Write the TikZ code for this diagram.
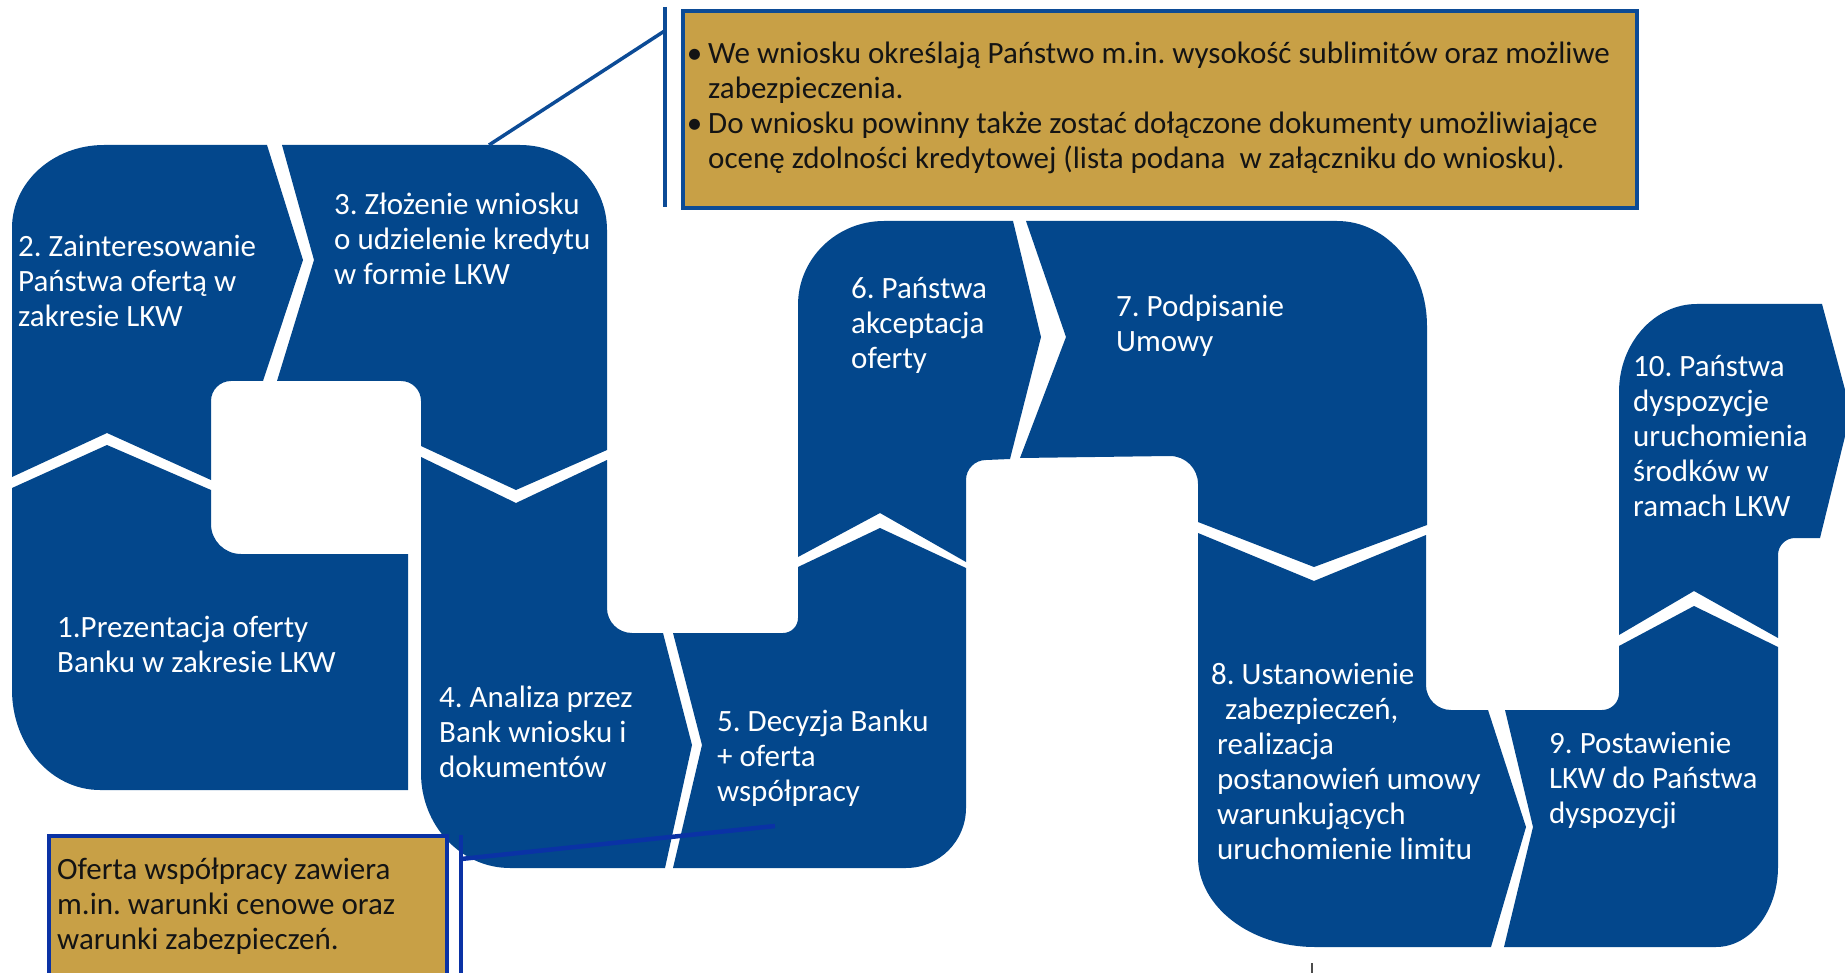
\documentclass[tikz,border=0pt]{standalone}
\usepackage{fontspec}
\setmainfont{Carlito}
\frenchspacing
\definecolor{ingblue}{RGB}{3,71,140}
\definecolor{gold}{RGB}{200,160,70}
\definecolor{boxline}{RGB}{12,75,150}
\definecolor{boxlinetwo}{RGB}{10,50,165}
\definecolor{ink}{RGB}{20,20,20}
\begin{document}
\begin{tikzpicture}[x=1pt,y=-1pt,
  tile/.style={fill=ingblue,draw=none},
  tiletext/.style={text=white,font=\frenchspacing\fontsize{31}{35}\selectfont,align=left,anchor=base west,inner sep=0pt},
  notetext/.style={text=ink,font=\frenchspacing\fontsize{31}{35}\selectfont,align=left,anchor=base west,inner sep=0pt},
  notebox/.style={fill=gold,draw=boxline,line width=4pt,inner sep=0pt,anchor=north west},
  calloutline/.style={draw=boxline,line width=4pt},
]
\useasboundingbox (0,0) rectangle (1845,973);
\clip (0,0) rectangle (1845,973);

% ---- tiles ----
% 2
\path[tile] (12,228) arc[start angle=180,end angle=270,x radius=92,y radius=83]
  -- (267,145) -- (303,260) -- (263,381) -- (231,381)
  arc[start angle=270,end angle=180,radius=20]
  -- (211,480) -- (107,433) -- (12,477) -- cycle;
% 1
\path[tile] (12,488) -- (107,445) -- (211,490) -- (211,524)
  arc[start angle=180,end angle=90,radius=30]
  -- (408,554) -- (408,790) -- (100,790)
  arc[start angle=90,end angle=180,x radius=88,y radius=100] -- cycle;
% 3
\path[tile] (282,145) -- (520,145)
  arc[start angle=270,end angle=360,x radius=87,y radius=85]
  -- (607,450) -- (516,490) -- (421,446) -- (421,401)
  arc[start angle=0,end angle=-90,radius=20]
  -- (277,381) -- (314,260) -- cycle;
% 4
\path[tile] (421,457) -- (516,503) -- (607,460) -- (607,608)
  arc[start angle=180,end angle=90,radius=25]
  -- (663,633) -- (692,745) -- (665,868) -- (510,868)
  arc[start angle=90,end angle=180,x radius=89,y radius=95] -- cycle;
% 5
\path[tile] (798,567) -- (880,528) -- (966,568) -- (966,808)
  arc[start angle=0,end angle=90,radius=60]
  -- (673,868) -- (702,745) -- (673,633) -- (783,633)
  arc[start angle=90,end angle=0,radius=15] -- cycle;
% 6
\path[tile] (798,305) arc[start angle=180,end angle=270,x radius=86,y radius=84]
  -- (1013,221) -- (1041,337) -- (1010,459) -- (986,460)
  arc[start angle=270,end angle=180,radius=20]
  -- (966,562) -- (880,513) -- (798,557) -- cycle;
% 7
\path[tile] (1026,221) -- (1337,221)
  arc[start angle=270,end angle=360,x radius=90,y radius=105]
  -- (1427,525) -- (1314,567) -- (1198,522) -- (1198,484)
  arc[start angle=0,end angle=-90,radius=28]
  -- (1020,458) -- (1066,337) -- cycle;
% 8
\path[tile] (1198,533) -- (1314,581) -- (1426,535) -- (1426,685)
  arc[start angle=180,end angle=90,radius=25]
  -- (1488,710) -- (1526,827) -- (1491,947) -- (1315,947)
  arc[start angle=90,end angle=180,x radius=117,y radius=90] -- cycle;
% 9
\path[tile] (1619,646) -- (1694,606) -- (1778,647) -- (1778,867)
  arc[start angle=0,end angle=90,x radius=62,y radius=80]
  -- (1504,947) -- (1533,827) -- (1505,710) -- (1602,710)
  arc[start angle=90,end angle=0,radius=17] -- cycle;
% 10
\path[tile] (1619,392) arc[start angle=180,end angle=270,x radius=78,y radius=88]
  -- (1822,304) -- (1851,412) -- (1820,538) -- (1795,538)
  arc[start angle=270,end angle=180,radius=17]
  -- (1778,638) -- (1694,591) -- (1619,635) -- cycle;

% ---- tile texts (anchor = baseline of the last line) ----
\node[tiletext] (t1) at (57,672) {1.Prezentacja oferty\\Banku w zakresie LKW};
\node[tiletext] (t2) at (18,327) {2. Zainteresowanie\\Państwa ofertą w\\zakresie LKW};
\node[tiletext] (t3) at (334,285) {3. Złożenie wniosku\\o udzielenie kredytu\\w formie LKW};
\node[tiletext] (t4) at (439,777) {4. Analiza przez\\Bank wniosku i\\dokumentów};
\node[tiletext] (t5) at (717,801) {5. Decyzja Banku\\+ oferta\\współpracy};
\node[tiletext] (t6) at (851,369) {6. Państwa\\akceptacja\\oferty};
\node[tiletext] (t7) at (1116,352) {7. Podpisanie\\Umowy};
\node[tiletext] (t8) at (1211,859) {8. Ustanowienie\\\hspace*{14pt}zabezpieczeń,\\\hspace*{6pt}realizacja\\\hspace*{6pt}postanowień umowy\\\hspace*{6pt}warunkujących\\\hspace*{6pt}uruchomienie limitu};
\node[tiletext] (t9) at (1549,823) {9. Postawienie\\LKW do Państwa\\dyspozycji};
\node[tiletext] (t10) at (1633,516) {10. Państwa\\dyspozycje\\uruchomienia\\środków w\\ramach LKW};

% ---- top note ----
\draw[calloutline] (664.5,7) -- (664.5,207);
\coordinate (topjoint) at (664.5,31);
\coordinate (topend) at (489,145);
\draw[calloutline,line width=3.5pt] (topjoint) -- (topend);
\node[notebox,minimum width=954pt,minimum height=197pt] (topbox) at (681,9) {};
\node[notetext] (toptext) at (708,169) {\llap{•\hspace{6pt}}We wniosku określają Państwo m.in. wysokość sublimitów oraz możliwe\\zabezpieczenia.\\\llap{•\hspace{6pt}}Do wniosku powinny także zostać dołączone dokumenty umożliwiające\\ocenę zdolności kredytowej (lista podana~ w załączniku do wniosku).};

% ---- bottom note ----
\node[notebox,draw=boxlinetwo,minimum width=398pt,minimum height=160pt] (botbox) at (47,834) {};
\draw[calloutline,draw=boxlinetwo] (461,835) -- (461,980);
\coordinate (botjoint) at (461,859);
\coordinate (botend) at (775,826);
\draw[calloutline,draw=boxlinetwo,line width=4.5pt] (botjoint) -- (botend);
\node[notetext] (bottext) at (57,949) {Oferta współpracy zawiera\\m.in. warunki cenowe oraz\\warunki zabezpieczeń.};

% small tick
\coordinate (ticktop) at (1312,963);
\coordinate (tickbot) at (1312,975);
\draw[line width=1.5pt,draw=black!70] (ticktop) -- (tickbot);
\end{tikzpicture}
\end{document}
